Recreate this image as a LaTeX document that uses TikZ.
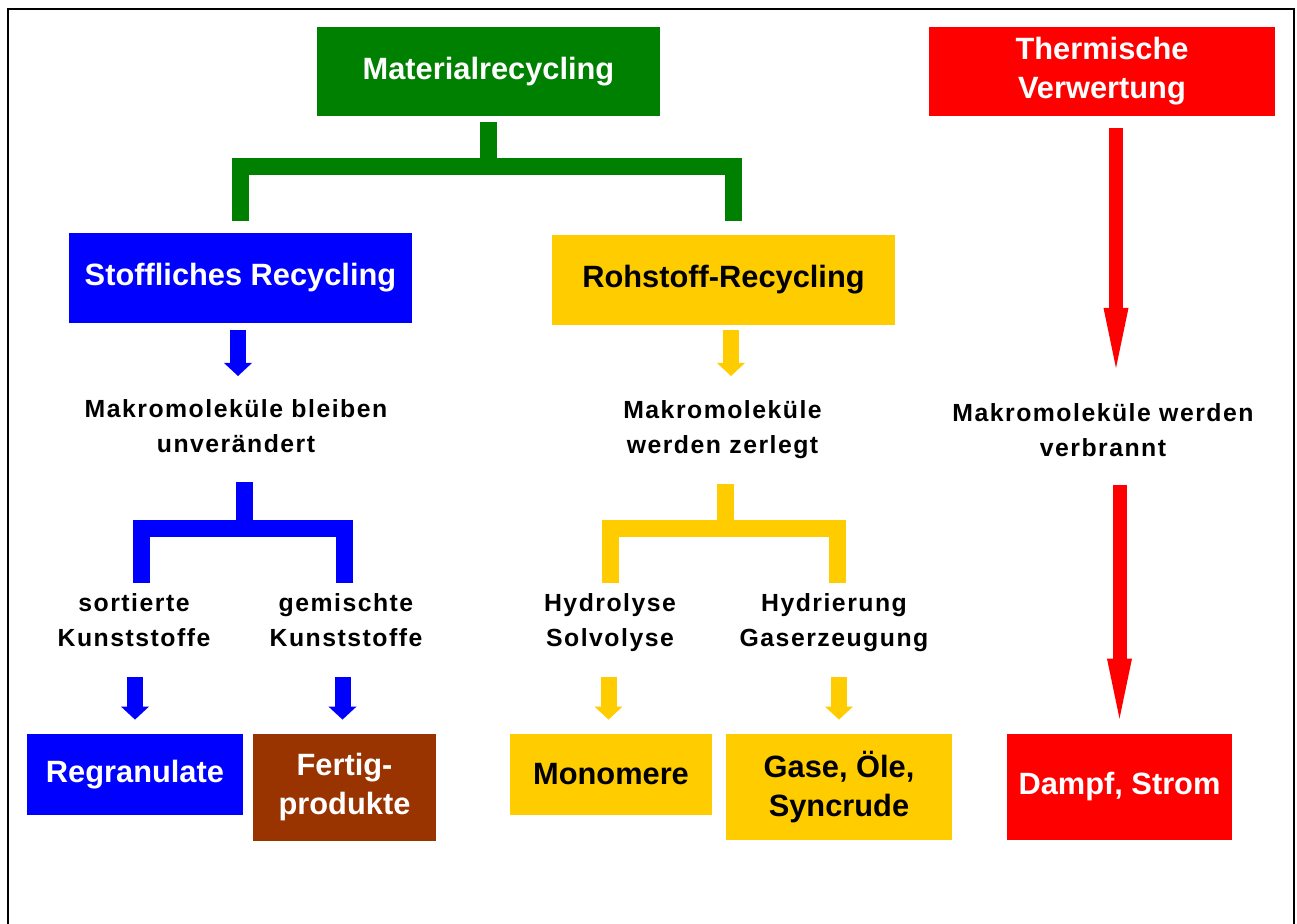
\documentclass[tikz,border=0pt]{standalone}
\usepackage{fontspec}
\setmainfont{Liberation Sans}
\newfontfamily\spacedfont{Liberation Sans}[LetterSpace=6]
\usetikzlibrary{arrows.meta}
\definecolor{mgreen}{RGB}{0,128,0}
\definecolor{mred}{RGB}{255,0,0}
\definecolor{mblue}{RGB}{0,0,255}
\definecolor{myellow}{RGB}{255,204,0}
\definecolor{mbrown}{RGB}{153,51,0}
\begin{document}
\begin{tikzpicture}[x=0.5pt,y=-0.5pt]
    \tikzset{
        box/.style={inner sep=0pt, align=center, text=white, font=\fontsize{15.4}{19.5}\selectfont\bfseries},
        lbl/.style={inner sep=0pt, align=center, anchor=north, font=\spacedfont\fontsize{12.4}{17.5}\selectfont\bfseries},
        bar/.style={line width=8.5pt, line join=miter},
        smallarrow/.style={line width=8pt, -{Triangle[length=6.5pt,width=14pt,line width=0pt]}},
        bigarrow/.style={line width=7pt, -{Triangle[length=30pt,width=12.5pt,line width=0pt]}}
    }
    \useasboundingbox (0,0) rectangle (1297,924);
    \draw[line width=1pt] (8.2,924) -- (8.2,9) -- (1293.7,9) -- (1293.7,924);

    \node[box, fill=mgreen, minimum width=171.5pt, minimum height=44.5pt] (mat) at (488.5,71.5) {Materialrecycling};
    \node[box, fill=mred, minimum width=173pt, minimum height=44.5pt] (therm) at (1102,71.5) {Thermische\\Verwertung};
    \node[box, fill=mblue, minimum width=171.5pt, minimum height=45pt] (stoff) at (240.5,278) {Stoffliches Recycling};
    \node[box, fill=myellow, text=black, minimum width=171.5pt, minimum height=45pt] (roh) at (723.5,280) {Rohstoff-Recycling};

    \node[lbl] (txtStoff) at (236,399) {Makromoleküle bleiben\\unverändert};
    \node[lbl] (txtRoh) at (722.5,400) {Makromoleküle\\werden zerlegt};
    \node[lbl] (txtTherm) at (1103,403) {Makromoleküle werden\\verbrannt};
    \node[lbl] (sort) at (134,593) {sortierte\\Kunststoffe};
    \node[lbl] (gem) at (346,593) {gemischte\\Kunststoffe};
    \node[lbl] (hydro) at (610,593) {Hydrolyse\\Solvolyse};
    \node[lbl] (hydri) at (834,593) {Hydrierung\\Gaserzeugung};

    \node[box, fill=mblue, minimum width=108pt, minimum height=40.5pt] (regr) at (135,774.5) {Regranulate};
    \node[box, fill=mbrown, minimum width=91.5pt, minimum height=53.5pt] (fertig) at (344.5,787.5) {Fertig-\\produkte};
    \node[box, fill=myellow, text=black, minimum width=101pt, minimum height=40.5pt] (mono) at (611,774.5) {Monomere};
    \node[box, fill=myellow, text=black, minimum width=113pt, minimum height=53pt] (gase) at (839,787) {Gase, Öle,\\Syncrude};
    \node[box, fill=mred, minimum width=112.5pt, minimum height=53pt] (dampf) at (1119.5,787) {Dampf, Strom};

    \coordinate (gfork) at (488.5,166.5);
    \coordinate (bfork) at (244.5,528.5);
    \coordinate (yfork) at (725,528.5);
    \draw[bar, mgreen, shorten <=3pt] (mat.south) -- (mat.south |- gfork);
    \draw[bar, mgreen, shorten <=6pt, shorten >=7pt] (stoff.north) |- (gfork) -| ([xshift=4.75pt]roh.north);
    \draw[bar, mblue, shorten <=14.5pt] (bfork |- txtStoff.south) -- (bfork);
    \draw[bar, mblue, shorten <=5pt, shorten >=5pt] ([xshift=3.5pt]sort.north) |- (bfork) -| ([xshift=-1pt]gem.north);
    \draw[bar, myellow, shorten <=12.5pt] (yfork |- txtRoh.south) -- (yfork);
    \draw[bar, myellow, shorten <=5pt, shorten >=5pt] (hydro.north) |- (yfork) -| ([xshift=1.75pt]hydri.north);

    \draw[smallarrow, mblue, shorten <=3.5pt, shorten >=11.5pt] ([xshift=-1.25pt]stoff.south) -- ([xshift=-1.25pt]stoff.south |- txtStoff.north);
    \draw[smallarrow, myellow, shorten <=2.5pt, shorten >=12pt] ([xshift=3.75pt]roh.south) -- ([xshift=3.75pt]roh.south |- txtRoh.north);
    \draw[bigarrow, mred, shorten <=6pt, shorten >=17.5pt] ([xshift=7pt]therm.south) -- ([xshift=7pt]therm.south |- txtTherm.north);
    \draw[bigarrow, mred, shorten <=14pt, shorten >=7.5pt] (dampf.north |- txtTherm.south) -- (dampf.north);
    \draw[smallarrow, mblue, shorten <=15pt, shorten >=7pt] (regr.north |- sort.south) -- (regr.north);
    \draw[smallarrow, mblue, shorten <=15pt, shorten >=7pt] ([xshift=-1pt]fertig.north |- gem.south) -- ([xshift=-1pt]fertig.north);
    \draw[smallarrow, myellow, shorten <=12.5pt, shorten >=7pt] ([xshift=-1.25pt]mono.north |- hydro.south) -- ([xshift=-1.25pt]mono.north);
    \draw[smallarrow, myellow, shorten <=12.5pt, shorten >=7pt] (gase.north |- hydri.south) -- (gase.north);
\end{tikzpicture}
\end{document}
